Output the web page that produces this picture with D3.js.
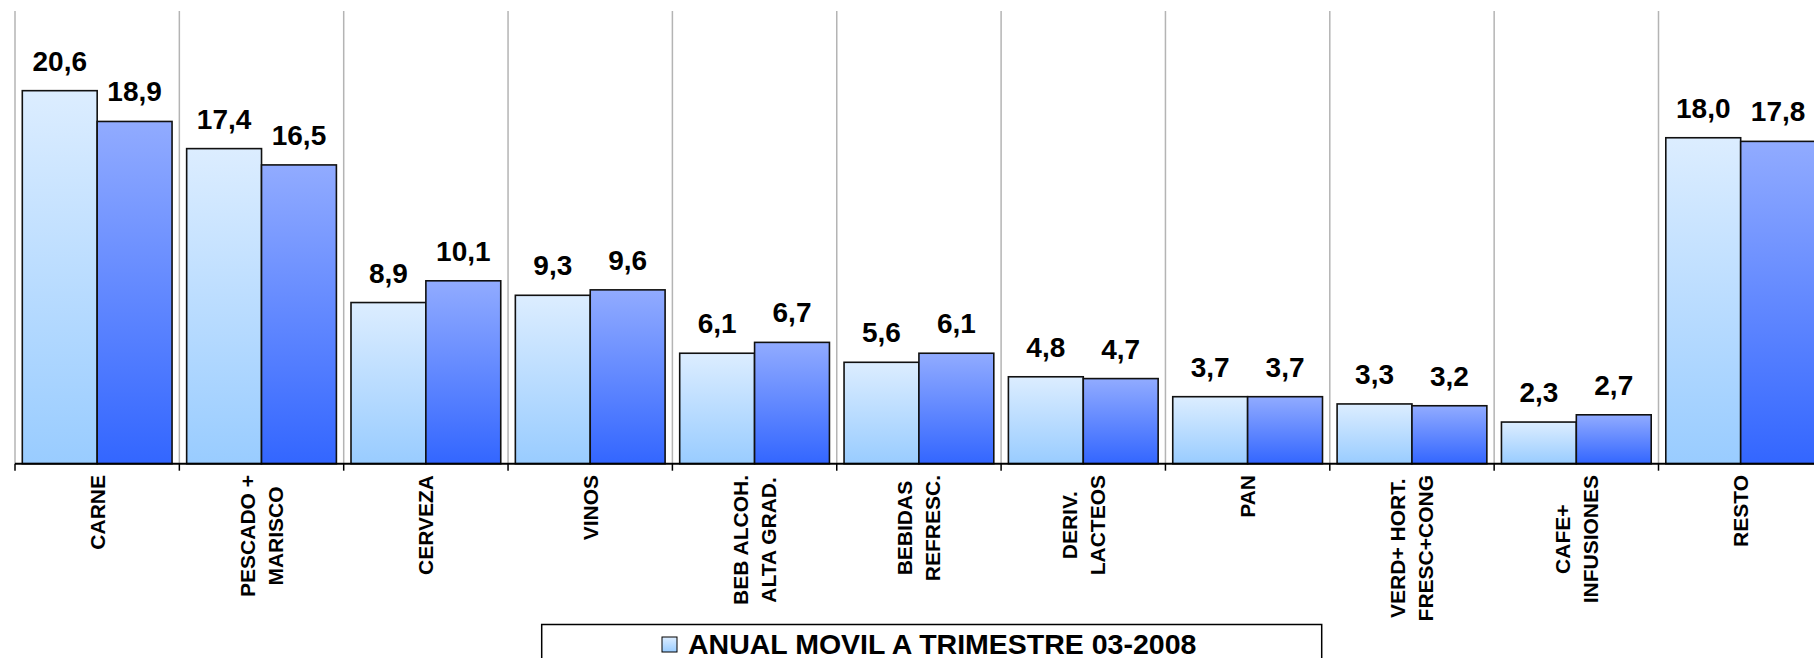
<!DOCTYPE html>
<html>
<head>
<meta charset="utf-8">
<script src="https://cdn.jsdelivr.net/npm/d3@7"></script>
<style>
  html, body { margin: 0; padding: 0; background: #fff; overflow: hidden; }
  svg { display: block; font-family: "Liberation Sans", Arial, sans-serif; }
</style>
</head>
<body>
<div id="plot-container"></div>
<script>
// ##################################
//  DATA
// ##################################
const categories = [
  ["CARNE"],
  ["PESCADO +", "MARISCO"],
  ["CERVEZA"],
  ["VINOS"],
  ["BEB ALCOH.", "ALTA GRAD."],
  ["BEBIDAS", "REFRESC."],
  ["DERIV.", "LACTEOS"],
  ["PAN"],
  ["VERD+ HORT.", "FRESC+CONG"],
  ["CAFE+", "INFUSIONES"],
  ["RESTO"],
]
const serie1 = [20.6, 17.4, 8.9, 9.3, 6.1, 5.6, 4.8, 3.7, 3.3, 2.3, 18.0]
const serie2 = [18.9, 16.5, 10.1, 9.6, 6.7, 6.1, 4.7, 3.7, 3.2, 2.7, 17.8]
const legendLabel = "ANUAL MOVIL A TRIMESTRE 03-2008"

// ##################################
//  CONSTANTS
// ##################################
const width = 1814
const height = 658
const plotLeft = 15
const bandWidth = 164.35
const plotTop = 11
const baseline = 463.7
const barInset = 7.3

const keys = categories.map((c) => c.join(" "))
const rows = keys.map((k, i) => ({ key: k, lines: categories[i], values: [serie1[i], serie2[i]] }))

const fmt = (v) => v.toFixed(1).replace(".", ",")

const x = d3.scaleBand().domain(keys).range([plotLeft, plotLeft + bandWidth * keys.length])
const xInner = d3.scaleBand().domain([0, 1]).range([barInset, x.bandwidth() - barInset])
const y = d3.scaleLinear().domain([0, 25]).range([baseline, plotTop])

const svg = d3.select("#plot-container")
  .append("svg")
  .attr("width", width)
  .attr("height", height)

// Gradients
const defs = svg.append("defs")
const grads = [
  { id: "g0", top: "#dcedff", bottom: "#99ccff" },
  { id: "g1", top: "#91abff", bottom: "#3366ff" },
]
grads.forEach((g) => {
  const lg = defs.append("linearGradient").attr("id", g.id)
    .attr("x1", 0).attr("y1", 0).attr("x2", 0).attr("y2", 1)
  lg.append("stop").attr("offset", "0%").attr("stop-color", g.top)
  lg.append("stop").attr("offset", "100%").attr("stop-color", g.bottom)
})

// Vertical grid lines at category boundaries
svg.append("g")
  .selectAll("line")
  .data(keys)
  .join("line")
  .attr("x1", (d) => x(d))
  .attr("x2", (d) => x(d))
  .attr("y1", plotTop)
  .attr("y2", baseline)
  .attr("stroke", "#b4b4b4")
  .attr("stroke-width", 1.5)

// Bars
const groups = svg.append("g")
  .selectAll("g")
  .data(rows)
  .join("g")
  .attr("transform", (d) => `translate(${x(d.key)},0)`)

groups.selectAll("rect")
  .data((d) => d.values.map((v, i) => ({ v, i })))
  .join("rect")
  .attr("x", (d) => xInner(d.i))
  .attr("y", (d) => y(d.v))
  .attr("width", xInner.bandwidth())
  .attr("height", (d) => baseline - y(d.v))
  .attr("fill", (d) => `url(#g${d.i})`)
  .attr("stroke", "#111")
  .attr("stroke-width", 1.6)

// Value labels
groups.selectAll("text")
  .data((d) => d.values.map((v, i) => ({ v, i })))
  .join("text")
  .attr("x", (d) => xInner(d.i) + xInner.bandwidth() / 2)
  .attr("y", (d) => y(d.v) - 20)
  .attr("text-anchor", "middle")
  .attr("font-size", 28)
  .attr("font-weight", "bold")
  .attr("fill", "#000")
  .text((d) => fmt(d.v))

// X axis (baseline + ticks)
const axis = svg.append("g").attr("transform", `translate(0,${baseline})`)
axis.append("line")
  .attr("x1", plotLeft).attr("x2", width)
  .attr("stroke", "#000").attr("stroke-width", 2)
axis.selectAll(".tick")
  .data(keys)
  .join("line")
  .attr("class", "tick")
  .attr("x1", (d) => x(d)).attr("x2", (d) => x(d))
  .attr("y1", 0).attr("y2", 7)
  .attr("stroke", "#000").attr("stroke-width", 1.5)

// Category labels (rotated, multi-line)
const labelTop = 475
const lineGap = 28
rows.forEach((r) => {
  const cx = x(r.key) + x.bandwidth() / 2
  const g = svg.append("g")
  const texts = r.lines.map((line) =>
    g.append("text")
      .attr("font-size", 21)
      .attr("font-weight", "bold")
      .attr("text-anchor", "middle")
      .attr("dominant-baseline", "central")
      .text(line)
  )
  const maxLen = d3.max(texts, (t) => t.node().getComputedTextLength())
  const cy = labelTop + maxLen / 2
  texts.forEach((t, j) => {
    const lx = cx + (j - (r.lines.length - 1) / 2) * lineGap
    t.attr("transform", `translate(${lx},${cy}) rotate(-90)`)
  })
})

// Legend
const legend = svg.append("g")
legend.append("rect")
  .attr("x", 541.7).attr("y", 624.5)
  .attr("width", 780).attr("height", 80)
  .attr("fill", "#fff")
  .attr("stroke", "#000")
  .attr("stroke-width", 1.5)
legend.append("rect")
  .attr("x", 662).attr("y", 637)
  .attr("width", 15).attr("height", 15)
  .attr("fill", "url(#g0)")
  .attr("stroke", "#000")
  .attr("stroke-width", 1)
legend.append("text")
  .attr("x", 688).attr("y", 654)
  .attr("font-size", 28.5)
  .attr("font-weight", "bold")
  .text(legendLabel)
</script>
</body>
</html>
